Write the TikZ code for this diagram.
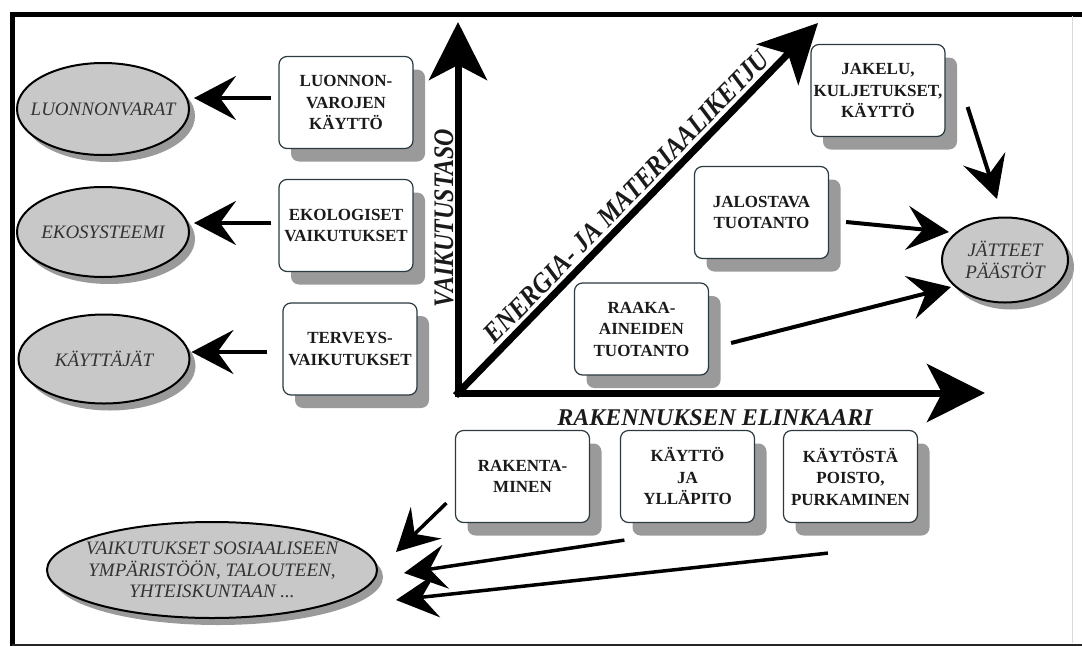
\documentclass[tikz,border=0pt]{standalone}
\usepackage{fontspec}
\setmainfont{Liberation Serif}
\usetikzlibrary{shapes.geometric,shadows,arrows.meta}
\definecolor{boxline}{HTML}{2B3A40}
\definecolor{shadowgray}{HTML}{9A9A9A}
\definecolor{ellfill}{HTML}{C8C8C8}
\definecolor{txt}{HTML}{1A1A1A}
\definecolor{elltxt}{HTML}{333333}
\begin{document}
\begin{tikzpicture}[x=1pt,y=-1pt,
  stagebox/.style={rectangle, rounded corners=8pt, draw=boxline, line width=1.2pt, fill=white,
    minimum width=134pt, minimum height=92pt, inner sep=0pt, align=center, text=txt,
    font=\fontsize{17}{21.5}\selectfont\bfseries,
    drop shadow={shadow xshift=12pt, shadow yshift=-13pt, fill=shadowgray, opacity=1}},
  effect/.style={ellipse, draw=black, line width=2pt, fill=ellfill, inner sep=0pt,
    drop shadow={shadow xshift=6pt, shadow yshift=-7pt, fill=shadowgray, opacity=1}},
  efftext/.style={font=\fontsize{19}{21.5}\selectfont\itshape, text=elltxt, align=center},
  axis/.style={line width=7pt, line cap=rect, -{Stealth[length=58pt,width=58pt,inset=15pt]}},
  flow/.style={line width=4pt, -{Stealth[length=42pt,width=44pt,inset=16pt]}},
  thinflow/.style={line width=3.5pt, -{Stealth[length=42pt,width=44pt,inset=16pt]}},
  axislabel/.style={font=\fontsize{24}{24}\selectfont\bfseries\itshape, text=txt},
]
\useasboundingbox (0,0) rectangle (1082,646);
% frame
\draw[line width=5pt] (10,14) -- (1082,14);
\draw[line width=5pt] (12,11.5) -- (12,646);
\draw[line width=2pt, black!85] (12,644.5) -- (1082,644.5);
\draw[line width=1pt, black!15] (1072,16) -- (1072,643);

% axes
\coordinate (O) at (458,393);
\coordinate (ytip) at (458,22);
\coordinate (xtip) at (985,393);
\coordinate (dtip) at (818,23);
\draw[axis] (O) -- (ytip);
\draw[axis] (O) -- (xtip);
\draw[axis] (O) -- (dtip);

\node[axislabel, rotate=90] (vlabel) at (444,218) {\scalebox{1}[1.18]{VAIKUTUSTASO}};
\node[axislabel, rotate=45.8, anchor=base, font=\fontsize{25}{25}\selectfont\bfseries\itshape] (elabel) at (633,203) {\scalebox{1}[1.12]{ENERGIA- JA MATERIAALIKETJU}};
\node[axislabel, anchor=base] (hlabel) at (715,425) {RAKENNUKSEN ELINKAARI};

% effect ellipses
\node[effect, minimum width=172pt, minimum height=92pt, label={[efftext]center:LUONNONVARAT}] (luonnonvarat) at (103,109) {};
\node[effect, minimum width=172pt, minimum height=90pt, label={[efftext]center:EKOSYSTEEMI}] (ekosysteemi) at (103,232) {};
\node[effect, minimum width=171pt, minimum height=89pt, label={[efftext]center:KÄYTTÄJÄT}] (kayttajat) at (104,359) {};
\node[effect, minimum width=126pt, minimum height=85pt, label={[efftext]center:JÄTTEET\\PÄÄSTÖT}] (jatteet) at (1005,260) {};
\node[effect, minimum width=330pt, minimum height=96pt, label={[efftext]center:VAIKUTUKSET SOSIAALISEEN\\YMPÄRISTÖÖN, TALOUTEEN,\\YHTEISKUNTAAN ...}] (sosiaali) at (212,570) {};

% stage boxes
\node[stagebox] (luon) at (346,102.5) {LUONNON-\\VAROJEN\\KÄYTTÖ};
\node[stagebox] (eko) at (346,225.5) {EKOLOGISET\\VAIKUTUKSET};
\node[stagebox] (terv) at (350,349) {TERVEYS-\\VAIKUTUKSET};
\node[stagebox] (jakelu) at (878,90.5) {JAKELU,\\KULJETUKSET,\\KÄYTTÖ};
\node[stagebox] (jalo) at (761.5,212.5) {JALOSTAVA\\TUOTANTO};
\node[stagebox] (raaka) at (641.5,329) {RAAKA-\\AINEIDEN\\TUOTANTO};
\node[stagebox] (rak) at (522.5,476.5) {RAKENTA-\\MINEN};
\node[stagebox] (kaytto) at (687.5,476.5) {KÄYTTÖ\\JA\\YLLÄPITO};
\node[stagebox] (poisto) at (850.5,476.5) {KÄYTÖSTÄ\\POISTO,\\PURKAMINEN};

% left arrows
\draw[flow] ([xshift=-7pt,yshift=4.5pt]luon.west) -- ([xshift=4pt,yshift=11pt]luonnonvarat.east);
\draw[flow] ([xshift=-7pt,yshift=2.5pt]eko.west) -- ([xshift=4pt,yshift=9pt]ekosysteemi.east);
\draw[flow] ([xshift=-15pt,yshift=-3pt]terv.west) -- ([xshift=1pt,yshift=7pt]kayttajat.east);

% arrows to waste
\draw[flow] ([xshift=22pt,yshift=-16.5pt]jakelu.east) -- ([xshift=-8pt,yshift=17.5pt]jatteet.north);
\draw[flow] ([xshift=17pt,yshift=-9.5pt]jalo.east) -- ([xshift=8pt,yshift=28pt]jatteet.west);
\draw[flow] ([xshift=22pt,yshift=-14pt]raaka.east) -- ([xshift=10pt,yshift=-27pt]jatteet.west);

% arrows to social effects
\draw[thinflow] ([xshift=-8.5pt,yshift=20pt]rak.south west) -- ([xshift=18pt,yshift=18pt]sosiaali.east);
\draw[thinflow] ([xshift=4.5pt,yshift=-17pt]kaytto.south west) -- ([xshift=26pt,yshift=-3pt]sosiaali.east);
\draw[thinflow] ([xshift=45pt,yshift=-30pt]poisto.south west) -- ([xshift=18pt,yshift=-30pt]sosiaali.east);
\end{tikzpicture}
\end{document}
